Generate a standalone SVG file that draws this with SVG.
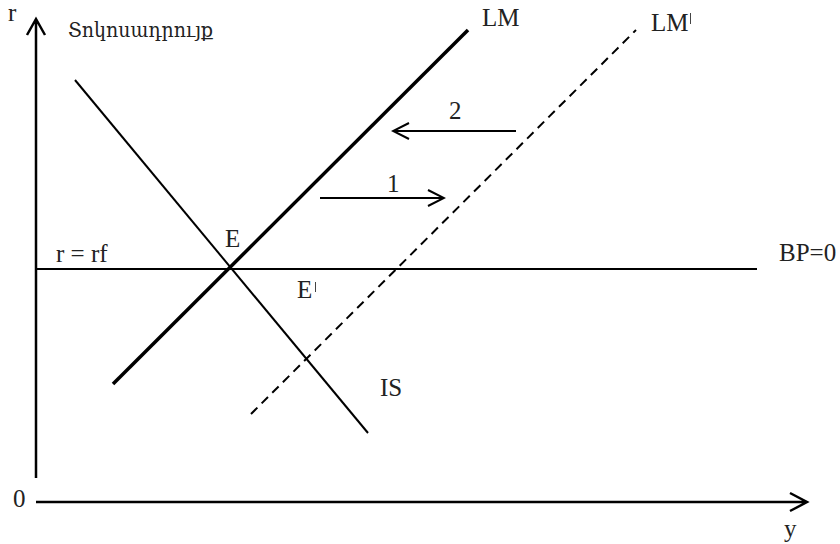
<svg xmlns="http://www.w3.org/2000/svg" width="840" height="544" viewBox="0 0 840 544">
<style>
text{font-family:"Liberation Serif","Times New Roman",serif;fill:#222;font-size:25px}
.ax{stroke:#000;stroke-width:2.5;fill:none}
.ln{stroke:#000;stroke-width:2;fill:none}
.pr{stroke:#444;stroke-width:1;fill:none}
</style>
<defs>
<marker id="ah" viewBox="0 0 20 20" refX="18" refY="10" markerWidth="20" markerHeight="20" markerUnits="userSpaceOnUse" orient="auto">
<path d="M2,2 L18,10 L2,18" fill="none" stroke="#000" stroke-width="2"/>
</marker>
</defs>
<rect width="840" height="544" fill="#fff"/>
<g id="axes">
<path class="ax" d="M36,478 V20 M27,35 L36,19 L45,35"/>
<path class="ax" d="M36,502 H806 M790,493 L807,502 L790,511"/>
<text x="8" y="21" font-size="18">r</text>
<text x="13" y="507" font-size="22">0</text>
<text x="784" y="537" font-size="22">y</text>
<text x="68" y="37" textLength="145" lengthAdjust="spacingAndGlyphs" style="font-family:'DejaVu Serif','Noto Serif',serif;font-size:21px">Տոկոսադրույք</text>
</g>
<g id="connectors">
<line id="bp" class="ln" x1="36" y1="269" x2="757" y2="269"/>
<line id="lm" x1="113" y1="384" x2="468" y2="30" stroke="#000" stroke-width="3.5"/>
<line id="lm2" x1="251" y1="414" x2="636" y2="30" stroke="#000" stroke-width="2" stroke-dasharray="9,6"/>
<line id="is" class="ln" x1="75" y1="80" x2="368" y2="433"/>
<line id="a1" class="ln" x1="320" y1="198" x2="444" y2="198" marker-end="url(#ah)"/>
<line id="a2" class="ln" x1="516" y1="131" x2="393" y2="131" marker-end="url(#ah)"/>
</g>
<g id="labels">
<text x="56" y="262">r = rf</text>
<text x="779" y="261">BP=0</text>
<text x="225" y="247" font-size="23">E</text>
<text x="297" y="298" font-size="23">E</text>
<text x="482" y="26">LM</text>
<text x="651" y="31">LM</text>
<text x="380" y="396">IS</text>
<text x="387" y="192" font-size="20">1</text>
<text x="449" y="119" font-size="20">2</text>
</g>
<g id="primes">
<line class="pr" x1="315.5" y1="282" x2="315.5" y2="292"/>
<line class="pr" x1="690.5" y1="13" x2="690.5" y2="24"/>
</g>
</svg>
